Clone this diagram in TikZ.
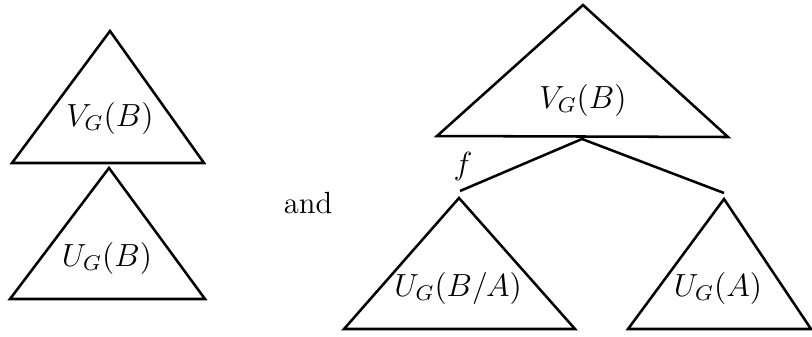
\documentclass[tikz,border=0pt]{standalone}
\begin{document}
\begin{tikzpicture}[x=0.375pt,y=-0.375pt,
  tri/.style={draw,line width=0.95pt,line join=miter},
  edge/.style={draw,line width=0.95pt},
  lbl/.style={inner sep=0pt,font=\fontsize{11.5}{13}\selectfont}]
\useasboundingbox (0,0) rectangle (812,336);
% left pair
\coordinate (a1) at (110,31);
\path[tri] (a1) -- (204,163) -- (12,163) -- cycle;
\node[lbl] (l1) at (110,118) {$V_G(B)$};
\coordinate (a2) at (109,168);
\path[tri] (a2) -- (205,299) -- (10,299) -- cycle;
\node[lbl] (l2) at (107,258) {$U_G(B)$};
\node[lbl] (and) at (308,203) {and};
% right tree
\coordinate (a3) at (583,5);
\path[tri] (a3) -- (728,137) -- (437,136) -- cycle;
\node[lbl] (l3) at (583,100) {$V_G(B)$};
\coordinate (root) at (582,139);
\coordinate (c1) at (460,191);
\coordinate (c2) at (724,193);
\draw[edge] (c1) -- (root) -- (c2);
\node[lbl] (f) at (463,166) {$f$};
\coordinate (a4) at (459,198);
\path[tri] (a4) -- (575,329) -- (344,329) -- cycle;
\node[lbl] (l4) at (458,288) {$U_G(B/A)$};
\coordinate (a5) at (724,199);
\path[tri] (a5) -- (811,329) -- (628,329) -- cycle;
\node[lbl] (l5) at (718,288) {$U_G(A)$};
\end{tikzpicture}
\end{document}
